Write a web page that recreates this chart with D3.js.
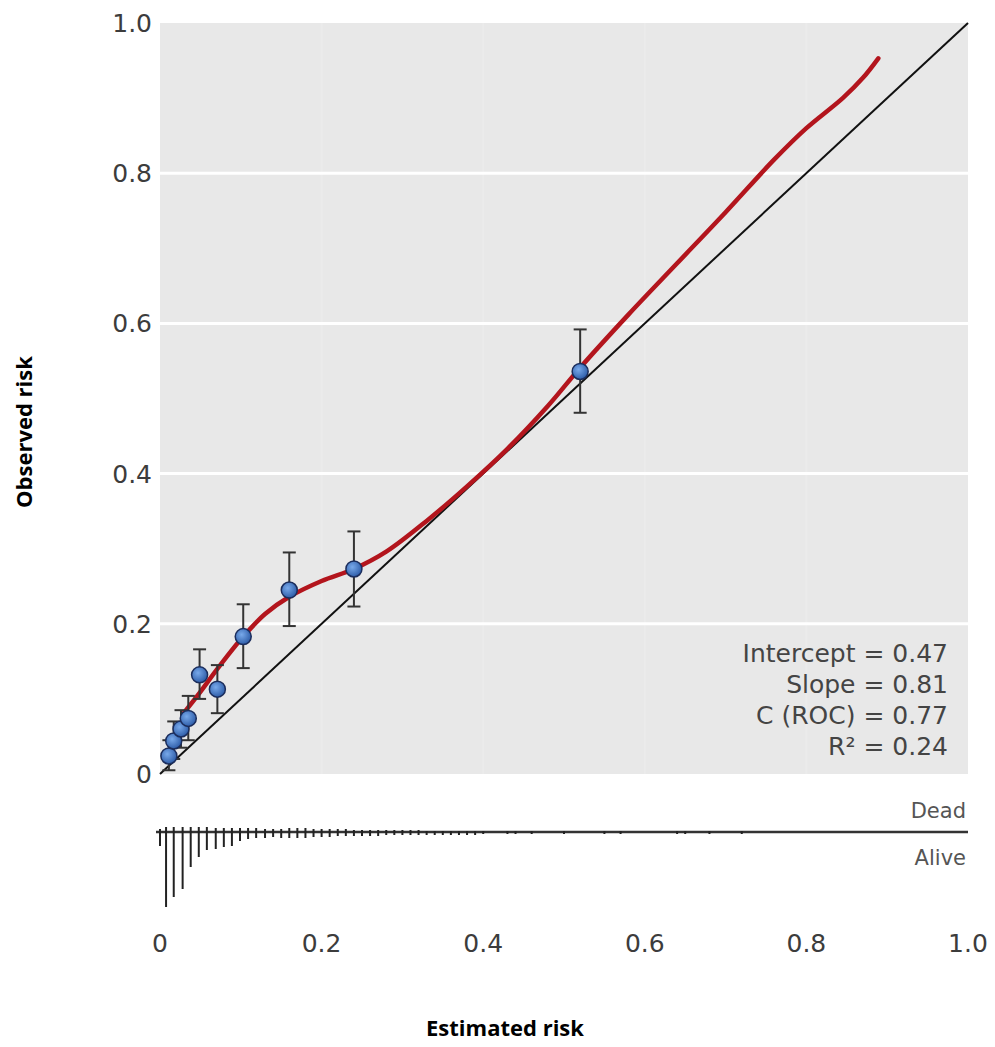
<!DOCTYPE html>
<meta charset="utf-8">
<head>
  <title>Calibration plot</title>
</head>
<body>
<style>
  html, body {
    margin: 0;
    padding: 0;
    background: #fff;
  }
  svg text {
    font-family: "DejaVu Sans", "Noto Sans", sans-serif;
  }
  .tick-label {
    fill: #3c3c3c;
    font-size: 25px;
  }
  .stat {
    fill: #444;
    font-size: 25px;
  }
  .side-label {
    fill: #555;
    font-size: 21px;
  }
  .axis-title {
    font-family: "Open Sans", sans-serif;
    font-weight: bold;
    font-size: 22px;
    fill: #000;
  }
</style>
<div id="chart"></div>
<script src="https://cdn.jsdelivr.net/npm/d3@7/dist/d3.min.js"></script>
<script>

// grouped observations (estimated vs observed risk with 95% CI)
var estRisk = [0.011, 0.017, 0.026, 0.035, 0.049, 0.071, 0.103, 0.160, 0.240, 0.520];
var obsRisk = [0.024, 0.044, 0.060, 0.074, 0.132, 0.113, 0.183, 0.245, 0.273, 0.536];
var ciLow   = [0.005, 0.020, 0.035, 0.045, 0.100, 0.081, 0.141, 0.197, 0.223, 0.481];
var ciHigh  = [0.045, 0.070, 0.085, 0.104, 0.166, 0.145, 0.226, 0.295, 0.323, 0.592];

// smoothed calibration curve
var curveX = [0.030, 0.049, 0.071, 0.103, 0.130, 0.160, 0.200, 0.240, 0.280, 0.330, 0.380,
              0.430, 0.480, 0.520, 0.580, 0.640, 0.700, 0.760, 0.800, 0.845, 0.870, 0.889];
var curveY = [0.082, 0.108, 0.140, 0.183, 0.213, 0.236, 0.257, 0.273, 0.296, 0.337, 0.383,
              0.433, 0.490, 0.541, 0.612, 0.680, 0.748, 0.818, 0.860, 0.900, 0.927, 0.953];

// distribution of predicted risk by outcome (spike heights)
var spikeX = [0.000, 0.0075, 0.017, 0.028, 0.038, 0.048, 0.058, 0.069, 0.079, 0.089, 0.099,
              0.109, 0.119, 0.130, 0.140, 0.150, 0.160, 0.170, 0.180, 0.190, 0.200, 0.210,
              0.220, 0.230, 0.240, 0.250, 0.260, 0.270, 0.280, 0.290, 0.300, 0.310, 0.320,
              0.330, 0.340, 0.350, 0.360, 0.370, 0.380, 0.390, 0.400, 0.430, 0.440, 0.460,
              0.500, 0.550, 0.570, 0.640, 0.650, 0.680, 0.720];
var alive  = [14, 75, 65, 57, 35, 25, 18, 17, 15, 14, 9,
              7, 6, 6, 5, 6, 6, 6, 6, 5, 5, 5,
              4, 4, 4, 4, 4, 4, 3, 3, 3, 3, 3,
              3, 3, 3, 3, 3, 3, 3, 2, 2, 2, 2,
              2, 2, 2, 2, 2, 2, 2];
var dead   = [3, 5, 5, 5, 5, 5, 5, 4, 4, 4, 4,
              4, 4, 3, 3, 3, 4, 4, 4, 3, 3, 3,
              3, 3, 2, 2, 2, 2, 2, 2, 2, 2, 2,
              1, 1, 1, 1, 1, 1, 1, 1, 1, 1, 1,
              1, 1, 1, 1, 1, 1, 1];

var ticks = [0, 0.2, 0.4, 0.6, 0.8, 1.0];
var stats = ["Intercept = 0.47", "Slope = 0.81", "C (ROC) = 0.77", "R\u00b2 = 0.24"];

var width = 995, height = 1047;

var svg = d3.select("#chart").append("svg")
    .attr("width", width)
    .attr("height", height);

var x = d3.scaleLinear().domain([0, 1]).range([160, 968]);
var y = d3.scaleLinear().domain([0, 1]).range([774, 23]);
var fmt = function(d) { return d === 0 ? "0" : d3.format(".1f")(d); };

// panel background and grid
svg.append("rect")
    .attr("x", x(0))
    .attr("y", y(1))
    .attr("width", x(1) - x(0))
    .attr("height", y(0) - y(1))
    .attr("fill", "#e8e8e8");

svg.append("g").selectAll("line")
    .data(ticks.slice(1, -1))
  .enter().append("line")
    .attr("x1", function(d) { return x(d); })
    .attr("x2", function(d) { return x(d); })
    .attr("y1", y(1))
    .attr("y2", y(0))
    .attr("stroke", "#fff")
    .attr("stroke-opacity", 0.15)
    .attr("stroke-width", 2);

svg.append("g").selectAll("line")
    .data(ticks.slice(1, -1))
  .enter().append("line")
    .attr("x1", x(0))
    .attr("x2", x(1))
    .attr("y1", function(d) { return y(d); })
    .attr("y2", function(d) { return y(d); })
    .attr("stroke", "#fff")
    .attr("stroke-width", 3);

// y tick labels
svg.append("g").selectAll("text")
    .data(ticks)
  .enter().append("text")
    .attr("class", "tick-label")
    .attr("x", 152)
    .attr("y", function(d) { return y(d); })
    .attr("dy", "0.36em")
    .attr("text-anchor", "end")
    .text(fmt);

// diagonal reference line
svg.append("line")
    .attr("x1", x(0)).attr("y1", y(0))
    .attr("x2", x(1)).attr("y2", y(1))
    .attr("stroke", "#111")
    .attr("stroke-width", 2);

// smoothed curve
var line = d3.line()
    .x(function(d) { return x(d[0]); })
    .y(function(d) { return y(d[1]); })
    .curve(d3.curveCatmullRom);

svg.append("path")
    .datum(d3.zip(curveX, curveY))
    .attr("d", line)
    .attr("fill", "none")
    .attr("stroke", "#b3151d")
    .attr("stroke-width", 4.5)
    .attr("stroke-linecap", "round");

// error bars
var bars = svg.append("g")
    .attr("stroke", "#333")
    .attr("stroke-width", 2);

estRisk.forEach(function(e, i) {
  bars.append("line")
      .attr("x1", x(e)).attr("x2", x(e))
      .attr("y1", y(ciLow[i])).attr("y2", y(ciHigh[i]));
  [ciLow[i], ciHigh[i]].forEach(function(v) {
    bars.append("line")
        .attr("x1", x(e) - 6.5).attr("x2", x(e) + 6.5)
        .attr("y1", y(v)).attr("y2", y(v));
  });
});

// points
var grad = svg.append("defs").append("radialGradient")
    .attr("id", "dot")
    .attr("cx", "40%").attr("cy", "38%").attr("r", "65%");
grad.append("stop").attr("offset", "0%").attr("stop-color", "#78a9ea");
grad.append("stop").attr("offset", "100%").attr("stop-color", "#2b5aa6");

svg.append("g").selectAll("circle")
    .data(d3.zip(estRisk, obsRisk))
  .enter().append("circle")
    .attr("cx", function(d) { return x(d[0]); })
    .attr("cy", function(d) { return y(d[1]); })
    .attr("r", 8)
    .attr("fill", "url(#dot)")
    .attr("stroke", "#1b2d5c")
    .attr("stroke-width", 1.5);

// statistics box
svg.append("g").selectAll("text")
    .data(stats)
  .enter().append("text")
    .attr("class", "stat")
    .attr("x", 948)
    .attr("y", function(d, i) { return 662 + i * 31; })
    .attr("text-anchor", "end")
    .text(function(d) { return d; });

// spike histogram
var base = 832;
var h = d3.scaleLinear().domain([0, 75]).range([0, 75]);

svg.append("line")
    .attr("x1", 156).attr("x2", x(1))
    .attr("y1", base).attr("y2", base)
    .attr("stroke", "#333")
    .attr("stroke-width", 2.5);

var spikes = svg.append("g")
    .attr("stroke", "#222")
    .attr("stroke-width", 2);

spikes.selectAll(".alive")
    .data(d3.zip(spikeX, alive))
  .enter().append("line")
    .attr("class", "alive")
    .attr("x1", function(d) { return x(d[0]); })
    .attr("x2", function(d) { return x(d[0]); })
    .attr("y1", base)
    .attr("y2", function(d) { return base + h(d[1]); });

spikes.selectAll(".dead")
    .data(d3.zip(spikeX, dead))
  .enter().append("line")
    .attr("class", "dead")
    .attr("x1", function(d) { return x(d[0]); })
    .attr("x2", function(d) { return x(d[0]); })
    .attr("y1", base)
    .attr("y2", function(d) { return base - h(d[1]); });

svg.append("text")
    .attr("class", "side-label")
    .attr("x", 966).attr("y", 818)
    .attr("text-anchor", "end")
    .text("Dead");

svg.append("text")
    .attr("class", "side-label")
    .attr("x", 966).attr("y", 865)
    .attr("text-anchor", "end")
    .text("Alive");

// x tick labels
svg.append("g").selectAll("text")
    .data(ticks)
  .enter().append("text")
    .attr("class", "tick-label")
    .attr("x", function(d) { return x(d); })
    .attr("y", 952)
    .attr("text-anchor", "middle")
    .text(fmt);

// axis titles
svg.append("text")
    .attr("class", "axis-title")
    .attr("transform", "translate(32,432) rotate(-90)")
    .attr("text-anchor", "middle")
    .text("Observed risk");

svg.append("text")
    .attr("class", "axis-title")
    .attr("x", 505)
    .attr("y", 1036)
    .attr("text-anchor", "middle")
    .text("Estimated risk");

</script>
</body>
